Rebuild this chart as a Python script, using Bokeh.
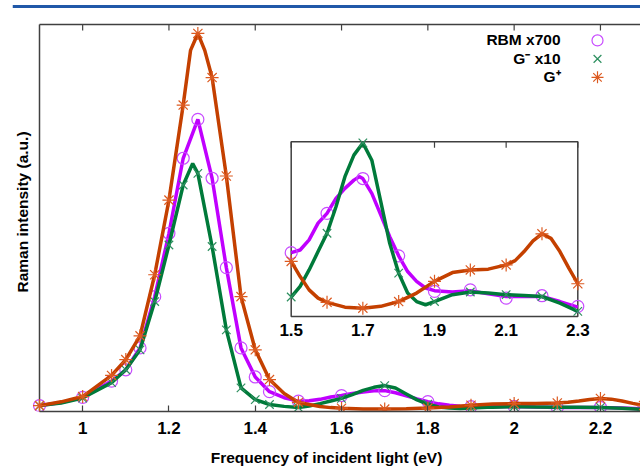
import numpy as np
from bokeh.plotting import figure
from bokeh.models import (Range1d, LinearAxis, FixedTicker, NumeralTickFormatter,
                          Label)
from bokeh.embed import file_html
from bokeh.resources import INLINE
from bokeh.core.properties import value

# ---------------- data ----------------
# marker positions (incident light energy, eV)
X_MARK = [0.9, 1.0, 1.067, 1.1, 1.133, 1.167, 1.2, 1.233, 1.267, 1.3, 1.333,
          1.367, 1.4, 1.433, 1.5, 1.6, 1.7, 1.8, 1.9, 2.0, 2.1, 2.2, 2.3]

RBM_MARK = [0.013, 0.035, 0.078, 0.108, 0.166, 0.302, 0.470, 0.669, 0.772, 0.616,
            0.379, 0.166, 0.089, 0.050, 0.0248, 0.0396, 0.0527, 0.0236, 0.0102,
            0.0108, 0.0077, 0.0086, 0.0046]
GM_MARK = [0.013, 0.033, 0.074, 0.108, 0.161, 0.289, 0.439, 0.598, 0.629, 0.435,
           0.214, 0.060, 0.029, 0.016, 0.0081, 0.0321, 0.0661, 0.0171, 0.0064,
           0.0100, 0.0090, 0.0083, 0.0027]
GP_MARK = [0.013, 0.037, 0.093, 0.135, 0.198, 0.360, 0.558, 0.810, 1.000, 0.883,
           0.622, 0.302, 0.161, 0.082, 0.0215, 0.0061, 0.0039, 0.0064, 0.0140,
           0.0183, 0.0202, 0.0319, 0.0131]

# smooth curves
RBM_X = [0.9, 0.95, 1.0, 1.067, 1.1, 1.133, 1.167, 1.2, 1.233, 1.267, 1.3, 1.333,
         1.367, 1.4, 1.433, 1.467, 1.5, 1.525, 1.55, 1.575, 1.6, 1.625, 1.65,
         1.675, 1.69, 1.7, 1.725, 1.75, 1.775, 1.8, 1.825, 1.85, 1.875, 1.9, 1.95,
         2.0, 2.05, 2.1, 2.15, 2.2, 2.25, 2.3]
RBM_Y = [0.013, 0.021, 0.035, 0.078, 0.108, 0.166, 0.302, 0.470, 0.669, 0.772,
         0.616, 0.379, 0.166, 0.089, 0.050, 0.034, 0.0248, 0.0258, 0.0296, 0.0359,
         0.0396, 0.0452, 0.0490, 0.0521, 0.0534, 0.0527, 0.0471, 0.0390, 0.0308,
         0.0236, 0.0177, 0.0140, 0.0115, 0.0105, 0.0100, 0.0105, 0.0093, 0.0083,
         0.0083, 0.0083, 0.0064, 0.0043]

GM_X = [0.9, 0.95, 1.0, 1.067, 1.1, 1.133, 1.167, 1.2, 1.233, 1.255, 1.267, 1.3,
        1.333, 1.367, 1.4, 1.433, 1.467, 1.5, 1.525, 1.55, 1.575, 1.6, 1.625, 1.65,
        1.675, 1.7, 1.725, 1.75, 1.775, 1.8, 1.825, 1.85, 1.875, 1.9, 1.95, 2.0,
        2.05, 2.1, 2.15, 2.2, 2.25, 2.3]
GM_Y = [0.013, 0.020, 0.033, 0.074, 0.108, 0.161, 0.289, 0.439, 0.598, 0.655,
        0.629, 0.435, 0.214, 0.060, 0.029, 0.016, 0.011, 0.0081, 0.0121, 0.0183,
        0.0252, 0.0321, 0.0421, 0.0534, 0.0615, 0.0661, 0.0596, 0.0440, 0.0283,
        0.0171, 0.0096, 0.0064, 0.0052, 0.0064, 0.0090, 0.0100, 0.0096, 0.0090,
        0.0087, 0.0083, 0.0058, 0.0027]

GP_X = [0.9, 0.95, 1.0, 1.067, 1.1, 1.133, 1.167, 1.2, 1.233, 1.25, 1.267, 1.283,
        1.3, 1.333, 1.367, 1.4, 1.433, 1.467, 1.5, 1.525, 1.55, 1.575, 1.6, 1.65,
        1.7, 1.75, 1.8, 1.85, 1.9, 1.95, 2.0, 2.05, 2.1, 2.125, 2.15, 2.175, 2.2,
        2.225, 2.25, 2.275, 2.3]
GP_Y = [0.013, 0.023, 0.037, 0.093, 0.135, 0.198, 0.360, 0.558, 0.810, 0.955,
        1.000, 0.955, 0.883, 0.622, 0.302, 0.161, 0.082, 0.045, 0.0215, 0.0158,
        0.0108, 0.0077, 0.0061, 0.0043, 0.0039, 0.0046, 0.0064, 0.0096, 0.0140,
        0.0173, 0.0183, 0.0186, 0.0202, 0.0218, 0.0252, 0.0292, 0.0319, 0.0302,
        0.0252, 0.0190, 0.0131]

SERIES_LABELS = ["RBM x700", "G\u207b x10", "G\u207a"]
X_TICKS = [1.0, 1.2, 1.4, 1.6, 1.8, 2.0, 2.2]
INSET_TICKS = [1.5, 1.7, 1.9, 2.1, 2.3]
INSET_TICK_LABELS = ["1.5", "1.7", "1.9", "2.1", "2.3"]
X_LABEL = "Frequency of incident light (eV)"
Y_LABEL = "Raman intensity (a.u.)"

# ---------------- styles / layout ----------------
FONT = "Liberation Sans"
FS = "15.5px"          # titles and key
FS_TICK = "17px"       # tick numbers
FRAME_COL = "#404040"
RULE_COL = "#2058a8"
COLORS = {"rbm": ("#c000ff", "#c84cff"),
          "gm": ("#007a3a", "#2e9060"),
          "gp": ("#c44000", "#dc5a20")}

W, H = 640, 468
BL, BR, BT, BB = 12, 0, 4, 56              # drawing area spans page x 12..640, y 4..412
FW, FH = W - BL - BR, H - BT - BB          # 628 x 408 px
PX_PER_EV, PX_PER_Y = 431.5, 378.0
AX_L = 27                                  # plot-box left edge, px from drawing-area left
AX_TOP = 388                               # plot-box top edge, px above drawing-area bottom
XLO = 0.9                                  # energy at the plot-box left edge
X_START = XLO - AX_L / PX_PER_EV
X_END = XLO + (FW - AX_L) / PX_PER_EV
Y0 = -0.0026
Y_BOX = Y0 + AX_TOP / PX_PER_Y             # value at the plot-box top edge
Y_END = Y0 + FH / PX_PER_Y

# blue rule (drawing-area px, from bottom-left)
RULE_L, RULE_R, RULE_B, RULE_T = 0, FW, 404.5, 407.5

# inset box, in drawing-area pixels measured from top-left, and its data bounds
IB_L, IB_R, IB_T, IB_B = 278.7, 565.3, 137.7, 312.7
IX_LO, IX_HI = 1.5, 2.3
IY_LO, IY_HI = 0.0008, 0.0665
kx = (IX_HI - IX_LO) / (IB_R - IB_L)
ky = (IY_HI - IY_LO) / (IB_B - IB_T)

# key and y-title placement (drawing-area px from bottom-left)
LEG_TEXT_X, LEG_SYM_X = 548, 585
LEG_Y = [372, 353.5, 335]
YT_X, YT_Y = 9.7, 200

p = figure(width=W, height=H, min_border_left=BL, min_border_right=BR,
           min_border_top=BT, min_border_bottom=BB, title=None,
           x_range=Range1d(X_START, X_END), y_range=Range1d(Y0, Y_END),
           x_axis_type=None, y_axis_type=None,
           output_backend="svg", toolbar_location=None)
p.outline_line_color = None
p.grid.visible = False
p.background_fill_color = "white"
p.border_fill_color = "white"

p.extra_x_ranges = {"ix": Range1d(IX_LO - IB_L * kx, IX_HI + (FW - IB_R) * kx),
                    "px": Range1d(0, FW)}
p.extra_y_ranges = {"iy": Range1d(IY_LO - (FH - IB_B) * ky, IY_HI + IB_T * ky),
                    "py": Range1d(0, FH)}

xb = LinearAxis(ticker=FixedTicker(ticks=X_TICKS),
                formatter=NumeralTickFormatter(format="0.[0]"), axis_label=X_LABEL,
                bounds=(XLO, X_END))
xb.axis_line_color = FRAME_COL
xb.axis_line_width = 1.5
xb.major_tick_line_color = FRAME_COL
xb.major_tick_line_width = 1.2
xb.major_tick_in = 6
xb.major_tick_out = 0
xb.minor_tick_in = 0
xb.minor_tick_out = 0
xb.major_label_text_font = FONT
xb.major_label_text_font_style = "bold"
xb.major_label_text_font_size = FS_TICK
xb.major_label_text_color = "black"
xb.axis_label_text_font = FONT
xb.axis_label_text_font_style = "bold"
xb.axis_label_text_font_size = FS
xb.axis_label_text_color = "black"
xb.major_label_standoff = 10
xb.axis_label_standoff = 12
p.add_layout(xb, "below")

# blue rule across the top of the page
p.quad(left=[RULE_L], right=[RULE_R], bottom=[RULE_B], top=[RULE_T],
       fill_color=RULE_COL, line_color=None, x_range_name="px", y_range_name="py")

# plot box: left and top edges, and the mirrored top ticks
p.segment(x0=[AX_L, AX_L], y0=[0, AX_TOP], x1=[AX_L, FW], y1=[AX_TOP, AX_TOP],
          line_color=FRAME_COL, line_width=1.5, x_range_name="px", y_range_name="py")
p.segment(x0=X_TICKS, y0=[Y_BOX] * len(X_TICKS), x1=X_TICKS,
          y1=[Y_BOX - 6 / PX_PER_Y] * len(X_TICKS), line_color=FRAME_COL,
          line_width=1.2)

# y-axis title
p.text(x=[YT_X], y=[YT_Y], text=[Y_LABEL], angle=np.pi / 2, text_align="center",
       text_baseline="middle", text_font=value(FONT), text_font_style="bold",
       text_font_size=FS, text_color="black", x_range_name="px", y_range_name="py")

# ---------------- main curves ----------------
series = [("rbm", RBM_X, RBM_Y, RBM_MARK, "circle", 12),
          ("gm", GM_X, GM_Y, GM_MARK, "x", 12),
          ("gp", GP_X, GP_Y, GP_MARK, "asterisk", 13)]

for key, cx, cy, my, marker, size in series:
    lc, mc = COLORS[key]
    p.line(cx, cy, line_color=lc, line_width=3.5)
    p.scatter(X_MARK, my, marker=marker, size=size, fill_color=None,
              line_color=mc, line_width=1.2)

# ---------------- inset ----------------
p.quad(left=[IX_LO], right=[IX_HI], bottom=[IY_LO], top=[IY_HI],
       fill_color="white", line_color=FRAME_COL, line_width=1.5,
       x_range_name="ix", y_range_name="iy")
p.segment(x0=INSET_TICKS, y0=[IY_HI] * len(INSET_TICKS), x1=INSET_TICKS,
          y1=[IY_HI - 6 * ky] * len(INSET_TICKS), line_color=FRAME_COL,
          line_width=1.2, x_range_name="ix", y_range_name="iy")
p.text(x=INSET_TICKS, y=[IY_LO] * len(INSET_TICKS), text=INSET_TICK_LABELS,
       text_align="center", text_baseline="top", y_offset=8,
       text_font=value(FONT), text_font_style="bold", text_font_size=FS_TICK,
       text_color="black", x_range_name="ix", y_range_name="iy")

for key, cx, cy, my, marker, size in series:
    lc, mc = COLORS[key]
    cxa, cya = np.array(cx), np.array(cy)
    m = (cxa >= IX_LO - 1e-9) & (cxa <= IX_HI + 1e-9)
    p.line(cxa[m], cya[m], line_color=lc, line_width=3.5,
           x_range_name="ix", y_range_name="iy")
    mxa, mya = np.array(X_MARK), np.array(my)
    mm = (mxa >= IX_LO - 1e-9) & (mxa <= IX_HI + 1e-9)
    p.scatter(mxa[mm], mya[mm], marker=marker, size=size, fill_color=None,
              line_color=mc, line_width=1.2, x_range_name="ix", y_range_name="iy")

# ---------------- key (text left of the symbol, gnuplot style) ----------------
for i, (txt, (key, cx, cy, my, marker, size)) in enumerate(zip(SERIES_LABELS, series)):
    lc, mc = COLORS[key]
    p.add_layout(Label(x=LEG_TEXT_X, y=LEG_Y[i], x_units="screen", y_units="screen",
                       text=txt, text_align="right", text_baseline="middle",
                       text_font=FONT, text_font_style="bold", text_font_size=FS,
                       text_color="black"))
    p.scatter([LEG_SYM_X], [LEG_Y[i]], marker=marker, size=size - 1, fill_color=None,
              line_color=mc, line_width=1.2, x_range_name="px", y_range_name="py")

open("out.html", "w").write(file_html(p, INLINE))
